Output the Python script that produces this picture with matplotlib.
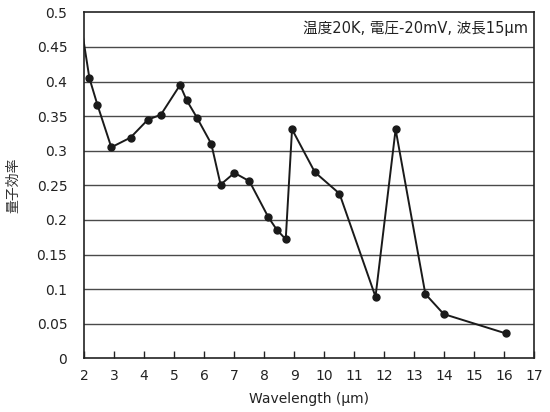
import matplotlib
matplotlib.use('Agg')
import matplotlib.pyplot as plt

plt.rcParams['font.family'] = ['DejaVu Sans', 'Noto Sans CJK JP']

# ── Data ──
wavelength = [1.85, 2.18, 2.45, 2.91, 3.55, 4.13, 4.56, 5.2, 5.42, 5.76, 6.24,
              6.55, 7.01, 7.51, 8.14, 8.42, 8.72, 8.93, 9.69, 10.51, 11.71,
              12.38, 13.37, 13.98, 16.05]
efficiency = [0.497, 0.405, 0.366, 0.305, 0.319, 0.345, 0.352, 0.395, 0.373,
              0.348, 0.310, 0.251, 0.268, 0.256, 0.204, 0.186, 0.172, 0.331,
              0.269, 0.238, 0.089, 0.331, 0.093, 0.064, 0.036]
yticks = [0, 0.05, 0.1, 0.15, 0.2, 0.25, 0.3, 0.35, 0.4, 0.45, 0.5]
ytick_labels = ['0', '0.05', '0.1', '0.15', '0.2', '0.25', '0.3', '0.35', '0.4', '0.45', '0.5']
xticks = list(range(2, 18))

fig = plt.figure(figsize=(5.5, 4.12), dpi=100)
ax = fig.add_axes([0.1527, 0.1303, 0.8188, 0.8397])

for y in yticks[1:-1]:
    ax.axhline(y, color='#4a4a4a', linewidth=1.0, zorder=1)

ax.plot(wavelength, efficiency, color='#1a1a1a', linewidth=1.4, marker='o',
        markersize=5, markerfacecolor='#1a1a1a', markeredgecolor='#1a1a1a', zorder=3)

ax.set_xlim(2, 17)
ax.set_ylim(0, 0.5)
ax.set_xticks(xticks)
ax.set_xticklabels([str(x) for x in xticks])
ax.set_yticks(yticks)
ax.set_yticklabels(ytick_labels)
ax.tick_params(axis='x', direction='in', length=5, width=1, pad=8, labelsize=10, colors='#222')
ax.tick_params(axis='y', length=0, pad=12, labelsize=10, colors='#222')
for s in ax.spines.values():
    s.set_color('#222')
    s.set_linewidth(1.2)

ax.set_xlabel('Wavelength (μm)', fontsize=10, color='#222', labelpad=6)
ax.set_ylabel('量子効率', fontsize=10, color='#333', labelpad=12,
              family=['Noto Sans CJK JP', 'DejaVu Sans'])

ax.text(0.985, 0.955, '温度20K, 電圧-20mV, 波長15μm', transform=ax.transAxes,
        ha='right', va='center', fontsize=10.5, color='#222',
        family=['DejaVu Sans', 'Noto Sans CJK JP'])

plt.savefig('out.png', dpi=100)
plt.close()
